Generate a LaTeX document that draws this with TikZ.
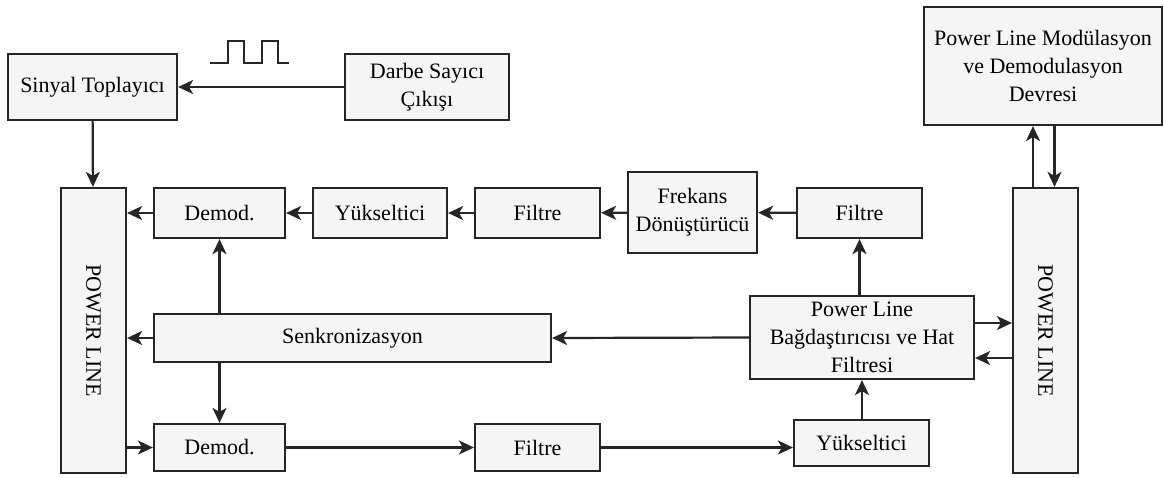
\documentclass[tikz,border=0pt]{standalone}
\usepackage{fontspec}
\setmainfont{Liberation Serif}
\usetikzlibrary{arrows.meta}

\begin{document}
\begin{tikzpicture}[x=1pt, y=-1pt, line width=2.2pt, color=black!85,
    >={Stealth[length=15pt,width=14pt,inset=4pt]},
    blok/.style={draw, fill=black!4, align=center, text=black,
      inner sep=0pt, font=\fontsize{22}{28}\selectfont},
    hat/.style={rotate=-90, blok}]
  \useasboundingbox (0,0) rectangle (1164,477);
  \node[blok, minimum width=169, minimum height=66] (sinyal) at (92.5,87) {Sinyal Toplayıcı};
  \node[blok, minimum width=164, minimum height=66] (darbe) at (427,87) {Darbe Sayıcı\\Çıkışı};
  \node[blok, minimum width=238, minimum height=118] (modem) at (1043,66) {Power Line Modülasyon\\ve Demodulasyon\\Devresi};
  \node[hat, minimum width=285, minimum height=65] (hatL) at (93.5,330.5) {POWER LINE};
  \node[hat, minimum width=285, minimum height=65] (hatR) at (1045.5,330.5) {POWER LINE};
  \node[blok, minimum width=131, minimum height=50] (demod1) at (219.5,213) {Demod.};
  \node[blok, minimum width=134, minimum height=50] (yuk1) at (380,213) {Yükseltici};
  \node[blok, minimum width=125, minimum height=50] (filtre1) at (537.5,213) {Filtre};
  \node[blok, minimum width=129, minimum height=81] (frekans) at (692.5,212.5) {Frekans\\Dönüştürücü};
  \node[blok, minimum width=125, minimum height=50] (filtre2) at (859.5,213) {Filtre};
  \node[blok, minimum width=397, minimum height=48] (senk) at (352.5,338) {Senkronizasyon};
  \node[blok, minimum width=224, minimum height=83] (bagdas) at (862,337.5) {Power Line\\Bağdaştırıcısı ve Hat\\Filtresi};
  \node[blok, minimum width=131, minimum height=47] (demod2) at (219.5,447.5) {Demod.};
  \node[blok, minimum width=125, minimum height=47] (filtre3) at (537.5,447.5) {Filtre};
  \node[blok, minimum width=135, minimum height=46] (yuk2) at (861.5,443) {Yükseltici};

  \draw (210,63) -- (228,63) -- (228,41) -- (244,41) -- (244,63) -- (262,63) -- (262,41) -- (278,41) -- (278,63) -- (289,63);

  \draw[->] (darbe) -- (sinyal);
  \draw[->] (sinyal) -- (hatL);
  \draw[->] (demod1.west) -- (demod1.west -| hatL.north);
  \draw[->] (yuk1) -- (demod1);
  \draw[->] (filtre1) -- (yuk1);
  \draw[->] (frekans) -- (filtre1);
  \draw[->] (filtre2) -- (frekans);
  \draw[->] (filtre2.south |- bagdas.north) -- (filtre2.south);
  \draw[->] (demod1.south |- senk.north) -- (demod1.south);
  \draw[->] (senk.south -| demod2.north) -- (demod2.north);
  \draw[->] (senk.west) -- (senk.west -| hatL.north);
  \draw[->] (bagdas.west) -- (senk.east);
  \draw[->] (demod2.west -| hatL.north) -- (demod2.west);
  \draw[->] (demod2) -- (filtre3);
  \draw[->] (filtre3.east) -- (filtre3.east -| yuk2.west);
  \draw[->] (yuk2.north -| bagdas.south) -- (bagdas.south);
  \draw[->] ([yshift=14.5pt]bagdas.east) -- ([yshift=14.5pt]bagdas.east -| hatR.south);
  \draw[->] ([yshift=-20.5pt]bagdas.east -| hatR.south) -- ([yshift=-20.5pt]bagdas.east);
  \draw[->] ([xshift=-12.5pt]hatR.west) -- ([xshift=-12.5pt]hatR.west |- modem.south);
  \draw[->] ([xshift=9pt]hatR.west |- modem.south) -- ([xshift=9pt]hatR.west);
\end{tikzpicture}
\end{document}
